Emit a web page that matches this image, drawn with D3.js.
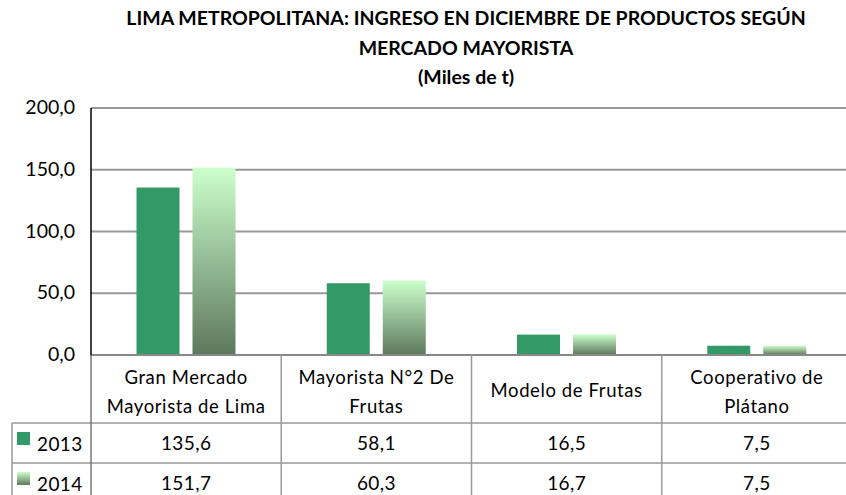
<!DOCTYPE html>
<html>
<head>
<meta charset="utf-8">
<script src="https://cdn.jsdelivr.net/npm/d3@7"></script>
<style>
  body { margin: 0; background: #fff; }
  svg { display: block; font-family: Lato, 'Open Sans', sans-serif; }
</style>
</head>
<body>
<svg id="chart" width="846" height="495"></svg>
<script>
const titleLines = ['LIMA METROPOLITANA: INGRESO EN DICIEMBRE DE PRODUCTOS SEGÚN', 'MERCADO MAYORISTA', '(Miles de t)']
const categories = [['Gran Mercado', 'Mayorista de Lima'], ['Mayorista N°2 De', 'Frutas'], ['Modelo de Frutas'], ['Cooperativo de', 'Plátano']]
const seriesNames = ['2013', '2014']
const values2013 = [135.6, 58.1, 16.5, 7.5]
const values2014 = [151.7, 60.3, 16.7, 7.5]
const yTicks = [0, 50, 100, 150, 200]

const fmt = v => d3.format('.1f')(v).replace('.', ',')

const svg = d3.select('#chart')
const plotLeft = 91, plotRight = 852, plotTop = 108, plotBottom = 355
const headerBottom = 423, rowH = 40

// gradient for 2014 bars
const defs = svg.append('defs')
const grad = defs.append('linearGradient')
  .attr('id', 'g2014').attr('x1', 0).attr('y1', 0).attr('x2', 0).attr('y2', 1)
grad.append('stop').attr('offset', '0%').attr('stop-color', '#ccffcc')
grad.append('stop').attr('offset', '100%').attr('stop-color', '#5d785d')

const fills = ['#339966', 'url(#g2014)']

// title
svg.append('g').selectAll('text')
  .data(titleLines)
  .join('text')
    .attr('x', 466)
    .attr('y', (d, i) => 25 + i * 29.5)
    .attr('text-anchor', 'middle')
    .attr('font-weight', 'bold')
    .attr('font-size', 19.5)
    .attr('fill', '#000')
    .text(d => d)

const x0 = d3.scaleBand().domain(d3.range(categories.length)).range([plotLeft, plotRight])
const x1 = d3.scaleBand().domain(seriesNames).range([45.5, 144.5]).paddingInner(0.232)
const y = d3.scaleLinear().domain([0, 200]).range([plotBottom, plotTop])

// gridlines
svg.append('g').selectAll('line')
  .data(yTicks.slice(1))
  .join('line')
    .attr('x1', plotLeft).attr('x2', plotRight)
    .attr('y1', d => y(d)).attr('y2', d => y(d))
    .attr('stroke', '#999').attr('stroke-width', 2)

// y tick labels
svg.append('g').selectAll('text')
  .data(yTicks)
  .join('text')
    .attr('x', 75)
    .attr('y', d => y(d) + 6)
    .attr('text-anchor', 'end')
    .attr('font-size', 19.5)
    .attr('fill', '#000')
    .text(fmt)

// bars
const series = [values2013, values2014]
series.forEach((vals, si) => {
  svg.append('g').selectAll('rect')
    .data(vals)
    .join('rect')
      .attr('x', (d, i) => x0(i) + x1(seriesNames[si]))
      .attr('y', d => y(d))
      .attr('width', x1.bandwidth())
      .attr('height', d => y(0) - y(d))
      .attr('fill', fills[si])
})

// axis lines
svg.append('line')
  .attr('x1', plotLeft).attr('x2', plotRight).attr('y1', plotBottom).attr('y2', plotBottom)
  .attr('stroke', '#888').attr('stroke-width', 2)
svg.append('line')
  .attr('x1', plotLeft).attr('x2', plotLeft).attr('y1', plotTop).attr('y2', plotBottom)
  .attr('stroke', '#000').attr('stroke-width', 1.5)

// data table
const tbl = svg.append('g').attr('stroke', '#999').attr('stroke-width', 1.5)
tbl.selectAll('line.h')
  .data([0, 1, 2])
  .join('line')
    .attr('class', 'h')
    .attr('x1', 12).attr('x2', plotRight)
    .attr('y1', k => headerBottom + k * rowH).attr('y2', k => headerBottom + k * rowH)
tbl.append('line').attr('x1', 12).attr('x2', 12).attr('y1', headerBottom).attr('y2', 500)
tbl.append('line').attr('x1', plotLeft).attr('x2', plotLeft).attr('y1', plotBottom).attr('y2', 500).attr('stroke', '#777')
tbl.selectAll('line.sep')
  .data(d3.range(1, categories.length))
  .join('line')
    .attr('class', 'sep')
    .attr('x1', i => x0(i)).attr('x2', i => x0(i))
    .attr('y1', plotBottom).attr('y2', 500)

// category headers
svg.append('g').selectAll('text')
  .data(categories)
  .join('text')
    .attr('x', (d, i) => x0(i) + x0.bandwidth() / 2)
    .attr('text-anchor', 'middle')
    .attr('font-size', 18.5)
    .attr('letter-spacing', 0.6)
    .attr('fill', '#000')
    .each(function (d) {
      const t = d3.select(this)
      const y0 = d.length === 1 ? 397 : 384
      d.forEach((line, k) => t.append('tspan')
        .attr('x', t.attr('x')).attr('y', y0 + k * 29).text(line))
    })

// rows
series.forEach((vals, si) => {
  const cy = headerBottom + si * rowH + rowH / 2 + 7
  const row = svg.append('g')
  row.append('rect')
    .attr('x', 17).attr('y', cy - 18).attr('width', 13).attr('height', 13)
    .attr('fill', fills[si])
  row.append('text')
    .attr('x', 37).attr('y', cy + 1)
    .attr('font-size', 19).attr('letter-spacing', 0.4).attr('fill', '#000')
    .text(seriesNames[si])
  row.selectAll('text.v')
    .data(vals)
    .join('text')
      .attr('class', 'v')
      .attr('x', (d, i) => x0(i) + x0.bandwidth() / 2)
      .attr('y', cy)
      .attr('text-anchor', 'middle')
      .attr('font-size', 19).attr('letter-spacing', 0.4).attr('fill', '#000')
      .text(fmt)
})
</script>
</body>
</html>
